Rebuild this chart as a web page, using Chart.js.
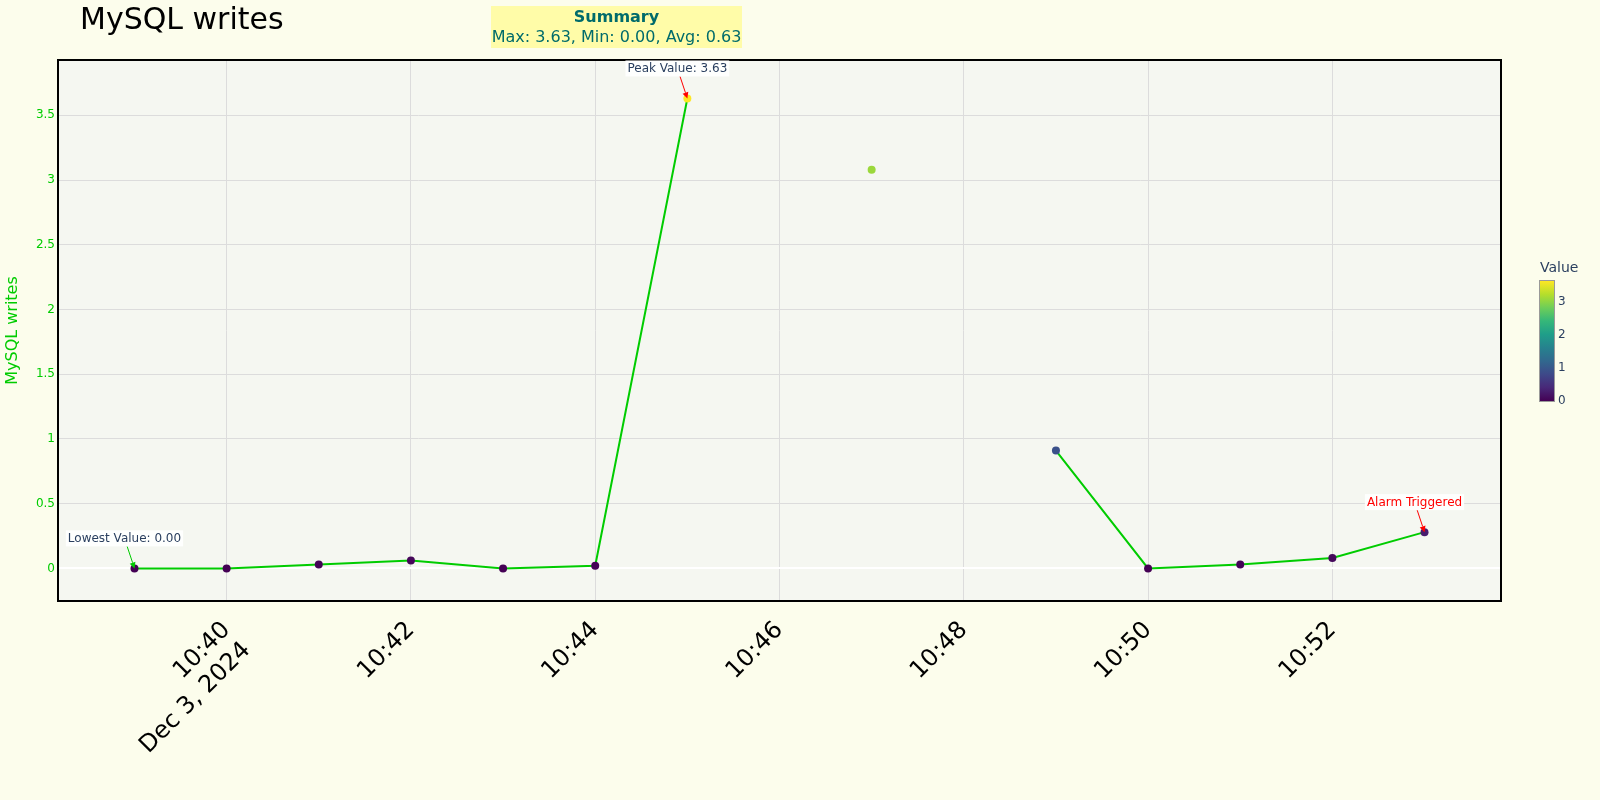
<!DOCTYPE html>
<html><head><meta charset="utf-8">
<script src="https://cdn.jsdelivr.net/npm/chart.js@4.4.1/dist/chart.umd.min.js"></script>
<style>html,body{margin:0;padding:0;background:#fcfdec;} canvas{display:block;}</style>
</head><body>
<canvas id="c" width="1600" height="800"></canvas>
<script>
// ---------- DATA ----------
const timeLabels = ['10:39','10:40','10:41','10:42','10:43','10:44','10:45','10:46','10:47','10:48','10:49','10:50','10:51','10:52','10:53'];
const writes     = [0.00, 0.00, 0.03, 0.06, 0.00, 0.02, 3.63, null, 3.08, null, 0.91, 0.00, 0.03, 0.08, 0.28];
const xTickTimes  = ['10:40','10:42','10:44','10:46','10:48','10:50','10:52'];
const xTickLabels = [['10:40','Dec 3, 2024'],'10:42','10:44','10:46','10:48','10:50','10:52'];
const yTickValues = [0, 0.5, 1, 1.5, 2, 2.5, 3, 3.5];
const colorbarTicks = [0, 1, 2, 3];
const summaryLines = ['Summary', 'Max: 3.63, Min: 0.00, Avg: 0.63'];
const annotationTexts = ['Peak Value: 3.63', 'Lowest Value: 0.00', 'Alarm Triggered'];
const annotationAt    = ['10:45', '10:39', '10:53'];
const chartTitle = 'MySQL writes';
const yTitle = 'MySQL writes';
const colorbarTitle = 'Value';

// ---------- STYLE ----------
const FONT = 'DejaVu Sans';
const PAPER = '#fcfdec', PLOT_BG = '#f5f7f1', GRID = '#dcdcdc';
const LINE = '#00cc00', AXIS_TXT = '#2a3f5f';
const CMIN = 0, CMAX = 3.63;
const X_PAD = 0.83, Y_MIN = -0.252, Y_MAX = 3.927;
const annTextColors  = [AXIS_TXT, AXIS_TXT, '#ff0000'];
const annArrowColors = ['#ff0000', LINE, '#ff0000'];
const ANN_DX = -10, ANN_DY = -30;

const viridisStops = ['#440154','#482878','#3e4989','#31688e','#26828e','#1f9e89','#35b779','#6ece58','#b5de2b','#fde725'];
function hex2rgb(h){return [parseInt(h.substr(1,2),16),parseInt(h.substr(3,2),16),parseInt(h.substr(5,2),16)];}
function viridis(t){
  t = Math.max(0, Math.min(1, t));
  const n = viridisStops.length - 1, f = t * n, i = Math.min(Math.floor(f), n - 1), r = f - i;
  const a = hex2rgb(viridisStops[i]), b = hex2rgb(viridisStops[i+1]);
  return 'rgb(' + a.map((v,k)=>Math.round(v + (b[k]-v)*r)).join(',') + ')';
}
const toMin = s => { const p = s.split(':').map(Number); return p[0]*60 + p[1]; };

const xs = timeLabels.map(toMin);
const points = xs.map((x,i) => ({x: x, y: writes[i]}));
const pointColors = writes.map(v => v == null ? 'rgba(0,0,0,0)' : viridis((v - CMIN)/(CMAX - CMIN)));
const xTickValues = xTickTimes.map(toMin);

Chart.defaults.font.family = FONT;

const decorPlugin = {
  id: 'decor',
  beforeDraw(chart) {
    const {ctx, chartArea: a} = chart;
    ctx.save();
    ctx.fillStyle = PAPER; ctx.fillRect(0, 0, chart.width, chart.height);
    ctx.fillStyle = PLOT_BG; ctx.fillRect(a.left, a.top, a.right - a.left, a.bottom - a.top);
    ctx.restore();
  },
  afterDraw(chart) {
    const {ctx, chartArea: a, scales} = chart;
    ctx.save();
    // border
    ctx.strokeStyle = '#000'; ctx.lineWidth = 2;
    ctx.strokeRect(a.left, a.top, a.right - a.left, a.bottom - a.top);

    // title
    ctx.fillStyle = '#000'; ctx.font = '30px ' + FONT; ctx.textAlign = 'left'; ctx.textBaseline = 'middle';
    ctx.fillText(chartTitle, 80, 21);

    // y title
    ctx.save();
    ctx.translate(13, (a.top + a.bottom)/2); ctx.rotate(-Math.PI/2);
    ctx.fillStyle = LINE; ctx.font = '16px ' + FONT; ctx.textAlign = 'center'; ctx.textBaseline = 'middle';
    ctx.fillText(yTitle, 0, 0);
    ctx.restore();

    // summary box
    ctx.fillStyle = 'rgb(255,252,168)';
    ctx.fillRect(491, 6, 251, 42);
    ctx.fillStyle = '#006b6b'; ctx.textAlign = 'center'; ctx.textBaseline = 'middle';
    ctx.font = 'bold 16px ' + FONT; ctx.fillText(summaryLines[0], 616.5, 17.5);
    ctx.font = '16px ' + FONT; ctx.fillText(summaryLines[1], 616.5, 37.5);

    // colorbar
    const cbX = 1540, cbW = 14, cbTop = 281, cbBot = 401;
    const g = ctx.createLinearGradient(0, cbBot, 0, cbTop);
    viridisStops.forEach((c, i) => g.addColorStop(i/(viridisStops.length-1), c));
    ctx.fillStyle = g; ctx.fillRect(cbX, cbTop, cbW, cbBot - cbTop);
    ctx.strokeStyle = '#999'; ctx.lineWidth = 1; ctx.strokeRect(cbX - 0.5, cbTop - 0.5, cbW + 1, cbBot - cbTop + 1);
    ctx.fillStyle = AXIS_TXT; ctx.font = '12px ' + FONT; ctx.textAlign = 'left'; ctx.textBaseline = 'middle';
    colorbarTicks.forEach(v => {
      const y = cbBot - (v - CMIN)/(CMAX - CMIN)*(cbBot - cbTop);
      ctx.fillText(String(v), cbX + cbW + 4, y);
    });
    ctx.font = '14px ' + FONT; ctx.textBaseline = 'middle';
    ctx.fillText(colorbarTitle, cbX, 268);

    // annotations
    annotationTexts.forEach((txt, i) => {
      const idx = timeLabels.indexOf(annotationAt[i]);
      const px = scales.x.getPixelForValue(xs[idx]);
      const py = scales.y.getPixelForValue(writes[idx]);
      drawAnnotation(ctx, txt, px, py, annTextColors[i], annArrowColors[i]);
    });
    ctx.restore();
  }
};

function drawAnnotation(ctx, text, px, py, textColor, arrowColor) {
  ctx.font = '12px ' + FONT;
  const w = ctx.measureText(text).width + 4, h = 16;
  const cx = px + ANN_DX, cy = py + ANN_DY;
  // arrow
  const dx = px - cx, dy = py - cy;
  const t = Math.min((h/2)/Math.abs(dy || 1e-9), (w/2)/Math.abs(dx || 1e-9));
  const sx = cx + dx*t, sy = cy + dy*t;
  const len = Math.hypot(px - sx, py - sy), ux = (px - sx)/len, uy = (py - sy)/len;
  const hl = 6, hw = 3;
  ctx.strokeStyle = arrowColor; ctx.lineWidth = 1;
  ctx.beginPath(); ctx.moveTo(sx, sy); ctx.lineTo(px - ux*hl, py - uy*hl); ctx.stroke();
  ctx.fillStyle = arrowColor;
  ctx.beginPath();
  ctx.moveTo(px, py);
  ctx.lineTo(px - ux*hl - uy*hw, py - uy*hl + ux*hw);
  ctx.lineTo(px - ux*hl + uy*hw, py - uy*hl - ux*hw);
  ctx.closePath(); ctx.fill();
  // box + text
  ctx.fillStyle = 'rgba(255,255,255,0.9)';
  ctx.fillRect(cx - w/2, cy - h/2, w, h);
  ctx.fillStyle = textColor; ctx.textAlign = 'center'; ctx.textBaseline = 'middle';
  ctx.fillText(text, cx, cy + 0.5);
}

new Chart(document.getElementById('c'), {
  type: 'line',
  data: {
    datasets: [{
      data: points,
      borderColor: LINE, borderWidth: 2, tension: 0, spanGaps: false,
      pointRadius: 4, pointHoverRadius: 4,
      pointBackgroundColor: pointColors, pointBorderColor: pointColors, pointBorderWidth: 0
    }]
  },
  options: {
    responsive: false, animation: false, events: [],
    layout: { padding: { left: 0, right: 99, top: 60, bottom: 0 } },
    plugins: { legend: { display: false }, tooltip: { enabled: false }, title: { display: false } },
    scales: {
      x: {
        type: 'linear',
        min: xs[0] - X_PAD, max: xs[xs.length-1] + X_PAD,
        afterBuildTicks: s => { s.ticks = xTickValues.map(v => ({value: v})); },
        afterFit: s => { s.height = 199; },
        border: { display: false },
        grid: { color: GRID, lineWidth: 1, drawTicks: false },
        ticks: {
          autoSkip: false, minRotation: 45, maxRotation: 45, padding: 15,
          color: '#000', font: { size: 24, family: FONT },
          callback: (v, i) => xTickLabels[i]
        }
      },
      y: {
        type: 'linear', min: Y_MIN, max: Y_MAX,
        afterBuildTicks: s => { s.ticks = yTickValues.map(v => ({value: v})); },
        afterFit: s => { s.width = 58; },
        border: { display: false },
        grid: {
          drawTicks: false,
          color: c => c.tick && c.tick.value === 0 ? '#ffffff' : GRID,
          lineWidth: c => c.tick && c.tick.value === 0 ? 2 : 1
        },
        ticks: {
          padding: 3, color: LINE, font: { size: 12, family: FONT },
          callback: v => String(v)
        }
      }
    }
  },
  plugins: [decorPlugin]
});
</script>
</body></html>
